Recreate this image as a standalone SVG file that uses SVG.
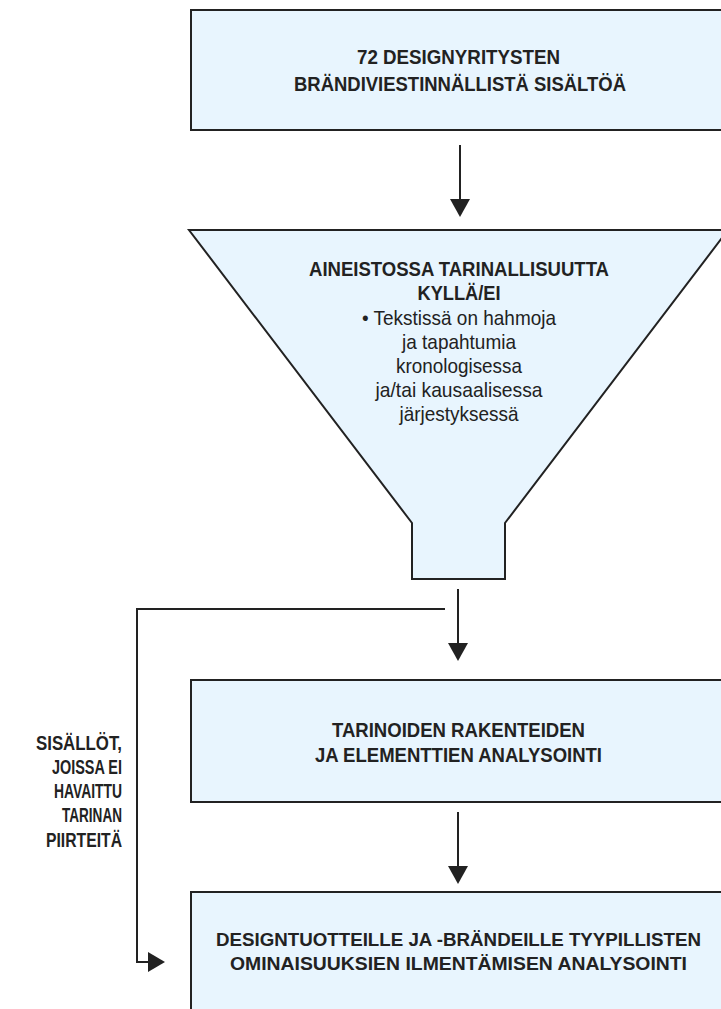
<svg xmlns="http://www.w3.org/2000/svg" width="721" height="1009" viewBox="0 0 721 1009">
  <style>
    .box { fill: #e8f5fe; stroke: #222; stroke-width: 2; }
    .wire { fill: none; stroke: #222; stroke-width: 2; }
    .head { fill: #222; stroke: none; }
    .b { font-family: "Liberation Sans", Arial, sans-serif; font-weight: bold; font-size: 20.5px; fill: #222; text-anchor: middle; }
    .bw { font-size: 19px; }
    .r { font-family: "Liberation Sans", Arial, sans-serif; font-size: 21px; fill: #222; text-anchor: middle; }
    .side { font-family: "Liberation Sans", Arial, sans-serif; font-weight: bold; font-size: 20px; fill: #222; text-anchor: end; }
  </style>
  <rect width="721" height="1009" fill="#ffffff"/>

  <!-- source material -->
  <g id="source">
    <rect class="box" x="191" y="10" width="540" height="120"/>
    <text class="b" x="458.5" y="64" textLength="203" lengthAdjust="spacingAndGlyphs">72 DESIGNYRITYSTEN</text>
    <text class="b" x="460" y="91" textLength="332" lengthAdjust="spacingAndGlyphs">BRÄNDIVIESTINNÄLLISTÄ SISÄLTÖÄ</text>
  </g>

  <!-- story filter funnel -->
  <g id="filter">
    <polygon class="box" points="189,230 728,230 505,523 505,579 412,579 412,523"/>
    <text class="b" x="459" y="276" textLength="300" lengthAdjust="spacingAndGlyphs">AINEISTOSSA TARINALLISUUTTA</text>
    <text class="b" x="459" y="300" textLength="83" lengthAdjust="spacingAndGlyphs">KYLLÄ/EI</text>
    <text class="r" x="459" y="325" textLength="194" lengthAdjust="spacingAndGlyphs">• Tekstissä on hahmoja</text>
    <text class="r" x="459" y="349" textLength="114" lengthAdjust="spacingAndGlyphs">ja tapahtumia</text>
    <text class="r" x="459" y="373" textLength="126" lengthAdjust="spacingAndGlyphs">kronologisessa</text>
    <text class="r" x="459" y="397" textLength="167" lengthAdjust="spacingAndGlyphs">ja/tai kausaalisessa</text>
    <text class="r" x="459" y="421" textLength="119" lengthAdjust="spacingAndGlyphs">järjestyksessä</text>
  </g>

  <!-- structure analysis -->
  <g id="structure">
    <rect class="box" x="191" y="680" width="540" height="122"/>
    <text class="b" x="458.5" y="737" textLength="253" lengthAdjust="spacingAndGlyphs">TARINOIDEN RAKENTEIDEN</text>
    <text class="b" x="458.5" y="762" textLength="287" lengthAdjust="spacingAndGlyphs">JA ELEMENTTIEN ANALYSOINTI</text>
  </g>

  <!-- design feature analysis -->
  <g id="features">
    <rect class="box" x="191" y="892" width="540" height="130"/>
    <text class="b bw" x="458.5" y="946" textLength="485" lengthAdjust="spacingAndGlyphs">DESIGNTUOTTEILLE JA -BRÄNDEILLE TYYPILLISTEN</text>
    <text class="b bw" x="458.5" y="970" textLength="457" lengthAdjust="spacingAndGlyphs">OMINAISUUKSIEN ILMENTÄMISEN ANALYSOINTI</text>
  </g>

  <!-- bypass label -->
  <g id="bypass-label">
    <text class="side" x="122" y="750" textLength="86" lengthAdjust="spacingAndGlyphs">SISÄLLÖT,</text>
    <text class="side" x="122" y="774" textLength="70" lengthAdjust="spacingAndGlyphs">JOISSA EI</text>
    <text class="side" x="122" y="798" textLength="68" lengthAdjust="spacingAndGlyphs">HAVAITTU</text>
    <text class="side" x="122" y="822" textLength="60" lengthAdjust="spacingAndGlyphs">TARINAN</text>
    <text class="side" x="122" y="847" textLength="76" lengthAdjust="spacingAndGlyphs">PIIRTEITÄ</text>
  </g>

  <!-- connectors -->
  <g id="connectors">
    <line class="wire" x1="460" y1="145" x2="460" y2="201"/>
    <polygon class="head" points="450,199 470,199 460,217"/>

    <line class="wire" x1="458" y1="589" x2="458" y2="645"/>
    <polygon class="head" points="448,643 468,643 458,661"/>

    <line class="wire" x1="458" y1="812" x2="458" y2="868"/>
    <polygon class="head" points="448,866 468,866 458,884"/>

    <polyline class="wire" points="445,609 137,609 137,962 150,962"/>
    <polygon class="head" points="148,952 148,972 165,962"/>
  </g>
</svg>
